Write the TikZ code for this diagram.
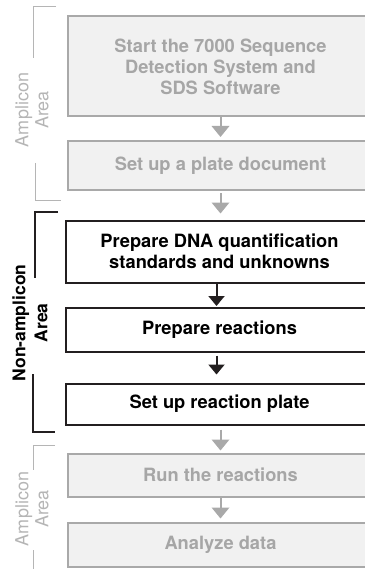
\documentclass[tikz,border=0pt]{standalone}
\usepackage{fontspec}
\setmainfont{TeX Gyre Heros}
\usetikzlibrary{arrows.meta}
\definecolor{gfill}{HTML}{F1F1F1}
\definecolor{gline}{HTML}{A9A9A9}
\definecolor{gtext}{HTML}{A6A6A6}
\definecolor{glabel}{HTML}{B5B5B5}
\definecolor{kline}{HTML}{231F20}
\tikzset{
  box/.style={rectangle, line width=2pt, align=center, inner sep=0pt,
    font=\fontsize{18.3}{21}\selectfont\bfseries},
  graybox/.style={box, draw=gline, fill=gfill, text=gtext, minimum width=306pt},
  blackbox/.style={box, draw=kline, fill=white, text=black, minimum width=308pt},
  grayarrow/.style={draw=gline, line width=2pt, -{Triangle[width=17.5pt,length=11pt]}},
  blackarrow/.style={draw=kline, line width=2pt, -{Triangle[width=16pt,length=10pt]}},
  graybracket/.style={draw=glabel, line width=1pt},
  blackbracket/.style={draw=kline, line width=1.4pt},
  graylabel/.style={rotate=90, align=center, text=glabel,
    font=\fontsize{18}{20}\selectfont},
  blacklabel/.style={rotate=90, align=center, text=black,
    font=\fontsize{17.5}{22}\selectfont\bfseries}
}
\begin{document}
\begin{tikzpicture}[x=1pt,y=-1pt]
\useasboundingbox (0,0) rectangle (364,569);
% boxes
\node[graybox, minimum height=100pt] (b1) at (220.5,66.5)
  {Start the 7000 Sequence\\Detection System and\\SDS Software};
\node[graybox, minimum height=49pt] (b2) at (220.5,166) {Set up a plate document};
\node[blackbox, minimum height=62pt] (b3) at (219.5,251.5)
  {Prepare DNA quantification\\standards and unknowns};
\node[blackbox, minimum height=44pt] (b4) at (219.5,329.5) {Prepare reactions};
\node[blackbox, minimum height=41pt] (b5) at (219.5,404) {Set up reaction plate};
\node[graybox, minimum height=43pt] (b6) at (220.5,475) {Run the reactions};
\node[graybox, minimum height=44pt] (b7) at (220.5,544.5) {Analyze data};
% arrow axes
\coordinate (ax) at (220.5,0);
\coordinate (bx) at (216.5,0);
% arrows
\draw[grayarrow, shorten >=3.5pt] (b1.south -| ax) -- (b2.north -| ax);
\draw[grayarrow, shorten <=2pt, shorten >=6pt] (b2.south -| ax) -- (b3.north -| ax);
\draw[blackarrow, shorten >=0.5pt] (b3.south -| bx) -- (b4.north -| bx);
\draw[blackarrow, shorten <=3pt, shorten >=8pt] (b4.south -| bx) -- (b5.north -| bx);
\draw[grayarrow, shorten <=4pt, shorten >=2pt] (b5.south -| ax) -- (b6.north -| ax);
\draw[grayarrow, shorten >=3pt] (b6.south -| ax) -- (b7.north -| ax);
% bracket corners
\coordinate (t1) at (56,7);    \coordinate (t2) at (33,7);    \coordinate (t3) at (33,58);
\coordinate (t4) at (35,163);  \coordinate (t5) at (35,200);  \coordinate (t6) at (61,200);
\coordinate (m1) at (58,212);  \coordinate (m2) at (35,212);  \coordinate (m3) at (35,278);
\coordinate (m4) at (33,374);  \coordinate (m5) at (33,432);  \coordinate (m6) at (55,432);
\coordinate (u1) at (55,445);  \coordinate (u2) at (33,445);  \coordinate (u3) at (33,470);
\coordinate (u4) at (33,550);  \coordinate (u5) at (33,572);
\draw[graybracket] (t1) -- (t2) -- (t3);
\draw[graybracket] (t4) -- (t5) -- (t6);
\draw[blackbracket] (m1) -- (m2) -- (m3);
\draw[blackbracket] (m4) -- (m5) -- (m6);
\draw[graybracket] (u1) -- (u2) -- (u3);
\draw[graybracket] (u4) -- (u5);
% labels
\node[graylabel] (l1) at (32,110) {Amplicon\\Area};
\node[blacklabel] (l2) at (30,323) {Non-amplicon\\Area};
\node[graylabel] (l3) at (32,509) {Amplicon\\Area};
\end{tikzpicture}
\end{document}
